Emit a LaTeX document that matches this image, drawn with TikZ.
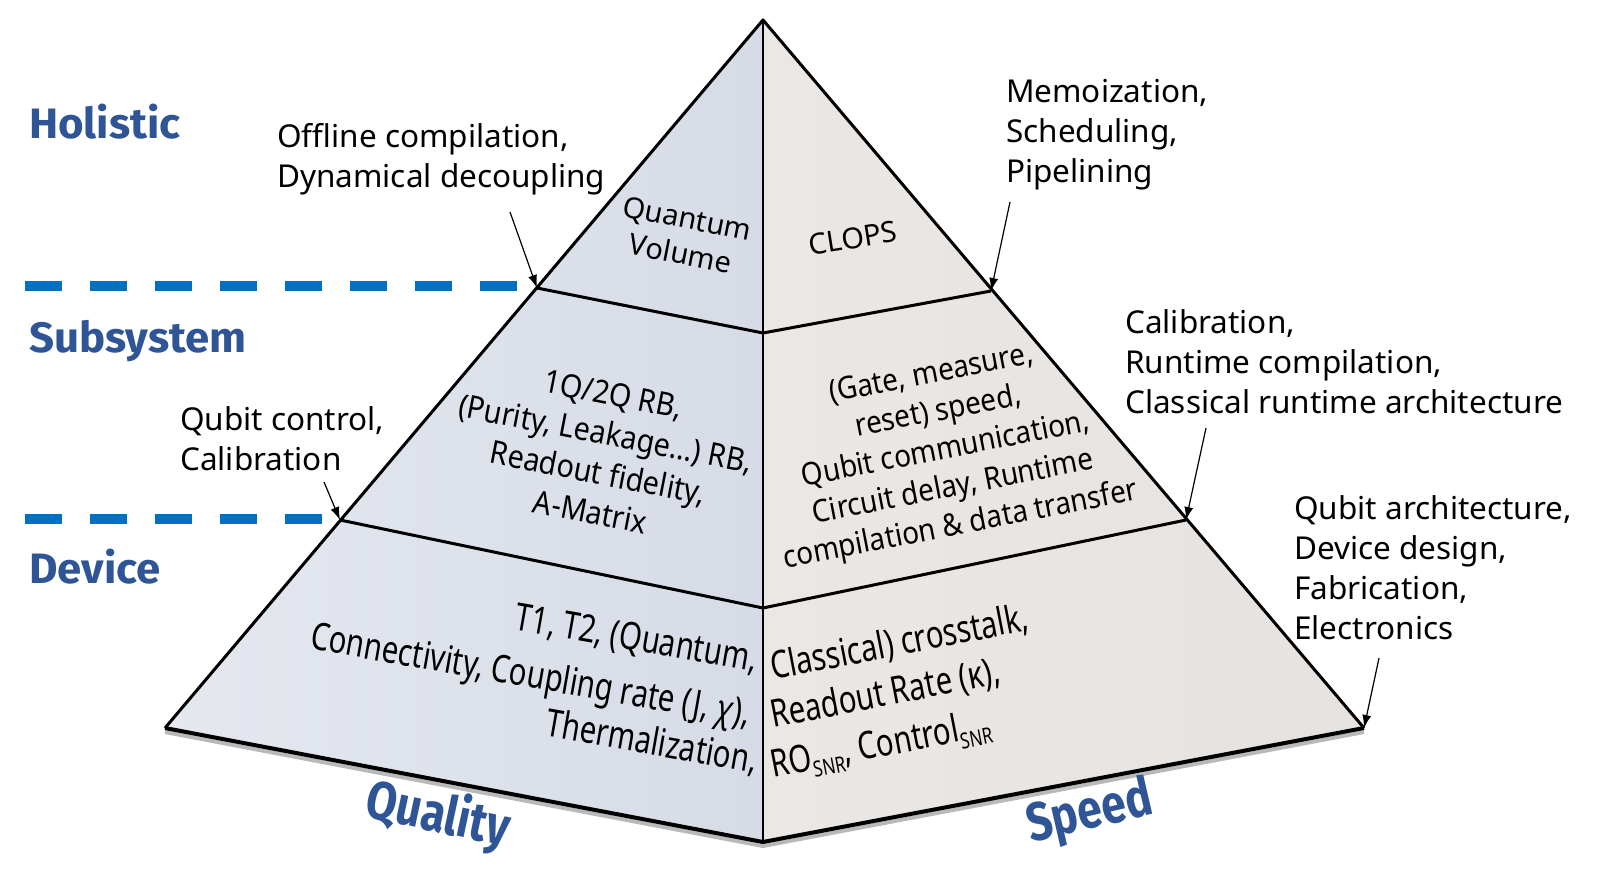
\documentclass[tikz,border=0pt]{standalone}
\usepackage{fontspec}
\setmainfont{Noto Sans}
\newfontfamily\annfont{Noto Sans}
\newfontfamily\midfont[FakeStretch=0.9]{Noto Sans}
\newfontfamily\midfontR[FakeStretch=0.9]{Noto Sans}
\newfontfamily\lowfont[FakeStretch=0.77]{Noto Sans}
\newfontfamily\headfont[FakeStretch=1.03]{Fira Sans}
\newfontfamily\axfont[FakeStretch=0.82]{Fira Sans}
\usetikzlibrary{arrows.meta}
\definecolor{headblue}{RGB}{47,85,151}
\definecolor{dashblue}{RGB}{0,112,192}
\definecolor{lfaceA}{RGB}{229,232,239}
\definecolor{lfaceB}{RGB}{214,219,230}
\definecolor{rfaceA}{RGB}{234,231,228}
\definecolor{rfaceB}{RGB}{229,226,223}
\newcommand{\snrsub}{\raisebox{-0.2em}{\fontsize{22}{22}\selectfont SNR}}
\tikzset{
  edge/.style={line width=3pt, line join=round},
  arr/.style={-{Latex[length=13pt,width=9pt]}, line width=1.2pt},
  ann/.style={font=\annfont\fontsize{31.5}{40}\selectfont, align=left, anchor=north west, inner sep=0pt},
  head/.style={font=\headfont\bfseries\fontsize{42.5}{48}\selectfont, text=headblue, anchor=base west, inner sep=0pt},
  axis/.style={font=\axfont\bfseries\fontsize{54}{60}\selectfont, text=headblue, inner sep=0pt},
  toptxt/.style={font=\annfont\fontsize{29}{36}\selectfont, align=center, inner sep=0pt},
  midtxt/.style={font=\midfont\fontsize{32}{40}\selectfont, align=center, inner sep=0pt},
  midtxtR/.style={font=\midfontR\fontsize{31}{38.5}\selectfont, align=center, inner sep=0pt},
  lowtxt/.style={font=\lowfont\fontsize{38}{46}\selectfont, inner sep=0pt},
  levdash/.style={dashblue, line width=10pt, dash pattern=on 37pt off 28pt}
}
\begin{document}
\begin{tikzpicture}[x=1pt,y=-1pt]
\useasboundingbox (0,0) rectangle (1599,877);
\fill[white] (0,0) rectangle (1599,877);

% pyramid corners
\coordinate (apex) at (763,20);
\coordinate (hl) at (537,288);
\coordinate (hc) at (763,333);
\coordinate (hr) at (991,291);
\coordinate (sl) at (340,520);
\coordinate (sc) at (763,608);
\coordinate (sr) at (1186,520);
\coordinate (bl) at (165,728);
\coordinate (bc) at (763,842);
\coordinate (br) at (1364,728);

% faces
\shade[left color=lfaceA, right color=lfaceB] (apex) -- (bl) -- (bc) -- cycle;
\shade[left color=rfaceA, right color=rfaceB] (apex) -- (bc) -- (br) -- cycle;

% base shadow
\draw[gray!55, line width=4pt, line join=round] (165,732) -- (763,846) -- (1364,732);

% edges
\draw[edge] (bl) -- (apex) -- (br);
\draw[edge] (hl) -- (hc) -- (hr);
\draw[edge] (sl) -- (sc) -- (sr);
\draw[line width=2pt] (apex) -- (bc);
\draw[line width=4pt, line join=round] (bl) -- (bc) -- (br);

% level separators
\draw[levdash] (25,286) -- (517,286);
\draw[levdash] (25,519) -- (322,519);

% level labels
\node[head] (hol) at (29,139) {Holistic};
\node[head] (sub) at (29,353) {Subsystem};
\node[head] (dev) at (29,583) {Device};

% annotations
\node[ann] (off) at (277,123) {Offline compilation,\\Dynamical decoupling};
\node[ann] (qc) at (180,406) {Qubit control,\\Calibration};
\node[ann] (memo) at (1006,79) {Memoization,\\Scheduling,\\Pipelining};
\node[ann] (cal) at (1125,309) {Calibration,\\Runtime compilation,\\Classical runtime architecture};
\node[ann] (qa) at (1294,495) {Qubit architecture,\\Device design,\\Fabrication,\\Electronics};

% arrows
\coordinate (a1) at (510,212);
\coordinate (a2) at (1010,202);
\coordinate (a3) at (1206,428);
\coordinate (a4) at (1379,658);
\coordinate (a5) at (324,482);
\draw[arr] (a1) -- (hl);
\draw[arr] (a2) -- (hr);
\draw[arr] (a3) -- (sr);
\draw[arr] (a4) -- (br);
\draw[arr] (a5) -- (sl);

% pyramid texts
\node[toptxt, rotate=-11] (qv) at (684,236) {Quantum\\Volume};
\node[toptxt, rotate=9] (clops) at (853,238) {CLOPS};
\node[midtxt, rotate=-11] (midL) at (602,453) {1Q/2Q RB,\\(Purity, Leakage…) RB,\\Readout fidelity,\\A-Matrix};
\node[midtxtR, rotate=11] (midR) at (946,451) {(Gate, measure,\\reset) speed,\\Qubit communication,\\Circuit delay, Runtime\\compilation \& data transfer};

\node[lowtxt, rotate=-10, anchor=base east] (lowL1) at (755,672) {T1, T2, (Quantum,};
\node[lowtxt, rotate=-10, anchor=base east] (lowL2) at (748,726) {Connectivity, Coupling rate (J, \textit{χ}),};
\node[lowtxt, rotate=-10, anchor=base east] (lowL3) at (755,773) {Thermalization,};
\node[lowtxt, rotate=11, anchor=base west] (lowR1) at (773,680) {Classical) crosstalk,};
\node[lowtxt, rotate=11, anchor=base west] (lowR2) at (773,728) {Readout Rate (κ),};
\node[lowtxt, rotate=11, anchor=base west] (lowR3) at (773,778) {RO\snrsub, Control\snrsub};

% axis labels
\node[axis, rotate=-12] (qual) at (438,816) {Quality};
\node[axis, rotate=13] (speed) at (1090,814) {Speed};
\end{tikzpicture}
\end{document}
